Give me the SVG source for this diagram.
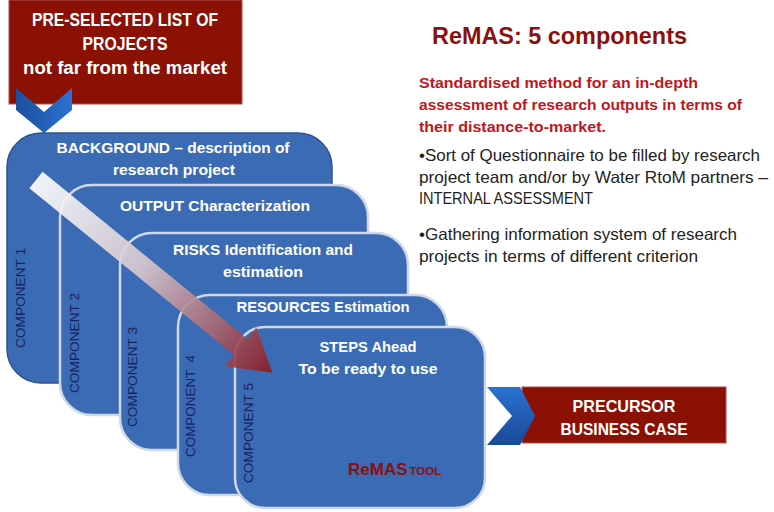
<svg xmlns="http://www.w3.org/2000/svg" width="774" height="512" viewBox="0 0 774 512">
<defs>
<linearGradient id="chevV" x1="0" y1="0" x2="1" y2="0">
<stop offset="0" stop-color="#1d4f9c"/><stop offset="0.5" stop-color="#2360b8"/><stop offset="1" stop-color="#2a72d2"/>
</linearGradient>
<linearGradient id="chevH" x1="0" y1="0" x2="0" y2="1">
<stop offset="0" stop-color="#2a72d2"/><stop offset="1" stop-color="#1a4a98"/>
</linearGradient>
<linearGradient id="arrowGrad" gradientUnits="userSpaceOnUse" x1="0" y1="0" x2="305" y2="0">
<stop offset="0" stop-color="#ffffff"/><stop offset="0.45" stop-color="#d6c8ce"/><stop offset="0.75" stop-color="#a86a76"/><stop offset="1" stop-color="#8a1a22"/>
</linearGradient>
<style>
.redbox{fill:#8b1104;stroke:#b05050;stroke-width:1}
.comp{fill:#3a6bb4;stroke:#cfd8e6;stroke-width:2.5}
.wt{fill:#ffffff;font-family:"Liberation Sans",Arial,sans-serif;font-weight:bold;text-anchor:middle}
.lbl{fill:#17245e;font-family:"Liberation Sans",Arial,sans-serif;font-size:13.5px}
.red{fill:#c0161b;font-family:"Liberation Sans",Arial,sans-serif;font-weight:bold;font-size:15.5px}
.blk{fill:#222222;font-family:"Liberation Sans",Arial,sans-serif;font-size:16.5px}
</style>
</defs>
<rect width="774" height="512" fill="#ffffff"/>

<g id="preselected">
<rect class="redbox" x="9" y="0" width="233" height="104"/>
<text class="wt" x="125" y="26" font-size="18" textLength="186" lengthAdjust="spacingAndGlyphs">PRE-SELECTED LIST OF</text>
<text class="wt" x="125" y="50" font-size="18" textLength="85" lengthAdjust="spacingAndGlyphs">PROJECTS</text>
<text class="wt" x="125" y="74" font-size="18" textLength="204" lengthAdjust="spacingAndGlyphs">not far from the market</text>
</g>

<g id="component1">
<rect x="7" y="133" width="325" height="250" rx="34" fill="#3a6bb4" stroke="#2c5490" stroke-width="1.5"/>
<text class="wt" x="173" y="153" font-size="15" textLength="233" lengthAdjust="spacingAndGlyphs">BACKGROUND – description of</text>
<text class="wt" x="174" y="175" font-size="15" textLength="122" lengthAdjust="spacingAndGlyphs">research project</text>
<text class="lbl" transform="translate(25,348) rotate(-90)" textLength="100" lengthAdjust="spacingAndGlyphs">COMPONENT 1</text>
</g>

<g id="component2">
<rect class="comp" x="60" y="185" width="308" height="230" rx="32"/>
<text class="wt" x="215" y="211" font-size="15" textLength="190" lengthAdjust="spacingAndGlyphs">OUTPUT Characterization</text>
<text class="lbl" transform="translate(79,393) rotate(-90)" textLength="100" lengthAdjust="spacingAndGlyphs">COMPONENT 2</text>
</g>

<g id="component3">
<rect class="comp" x="120" y="233" width="288" height="217" rx="32"/>
<text class="wt" x="263" y="255" font-size="15" textLength="180" lengthAdjust="spacingAndGlyphs">RISKS Identification and</text>
<text class="wt" x="263" y="277" font-size="15" textLength="80" lengthAdjust="spacingAndGlyphs">estimation</text>
<text class="lbl" transform="translate(137,427) rotate(-90)" textLength="100" lengthAdjust="spacingAndGlyphs">COMPONENT 3</text>
</g>

<g id="component4">
<rect class="comp" x="178" y="295" width="269" height="200" rx="32"/>
<text class="wt" x="323" y="312" font-size="15" textLength="173" lengthAdjust="spacingAndGlyphs">RESOURCES Estimation</text>
<text class="lbl" transform="translate(195,457) rotate(-90)" textLength="102" lengthAdjust="spacingAndGlyphs" xml:space="preserve">COMPONENT  4</text>
</g>

<g id="component5">
<rect class="comp" x="235" y="327" width="250" height="181" rx="30"/>
<text class="wt" x="368" y="352" font-size="15" textLength="97" lengthAdjust="spacingAndGlyphs">STEPS Ahead</text>
<text class="wt" x="368" y="374" font-size="15" textLength="139" lengthAdjust="spacingAndGlyphs">To be ready to use</text>
<text class="lbl" transform="translate(253,483) rotate(-90)" textLength="100" lengthAdjust="spacingAndGlyphs">COMPONENT 5</text>
<text x="348" y="475" fill="#8b1010" font-family="'Liberation Sans',Arial,sans-serif" font-weight="bold"><tspan font-size="17">ReMAS</tspan><tspan font-size="11.5" dx="2">TOOL</tspan></text>
</g>

<g id="precursor">
<rect class="redbox" x="522" y="387" width="204" height="56"/>
<text class="wt" x="624" y="412" font-size="16.5" textLength="103" lengthAdjust="spacingAndGlyphs">PRECURSOR</text>
<text class="wt" x="624" y="435" font-size="16.5" textLength="127" lengthAdjust="spacingAndGlyphs">BUSINESS CASE</text>
</g>

<g id="connectors">
<polygon id="chevron-down" points="16,88 44,112 72,88 72,110 44,133 16,110" fill="url(#chevV)"/>
<g id="flow-arrow" transform="translate(36,180) rotate(39.2)" opacity="0.92">
<path d="M0,-10.5 L264,-10.5 L264,-25 L305,0 L264,25 L264,10.5 L0,10.5 Z" fill="url(#arrowGrad)"/>
</g>
<polygon id="chevron-right" points="487,387 520,387 535,416 520,445 487,445 512,416" fill="url(#chevH)"/>
</g>

<g id="description">
<text x="432" y="44" fill="#8b1010" font-family="'Liberation Sans',Arial,sans-serif" font-weight="bold" font-size="23.5" textLength="255" lengthAdjust="spacingAndGlyphs">ReMAS: 5 components</text>
<text class="red" x="419" y="88" textLength="279" lengthAdjust="spacingAndGlyphs">Standardised method for an in-depth</text>
<text class="red" x="419" y="110" textLength="323" lengthAdjust="spacingAndGlyphs">assessment of research outputs in terms of</text>
<text class="red" x="419" y="132" textLength="187" lengthAdjust="spacingAndGlyphs">their distance-to-market.</text>
<text class="blk" x="419" y="161" textLength="341" lengthAdjust="spacingAndGlyphs">•Sort of Questionnaire to be filled by research</text>
<text class="blk" x="419" y="183" textLength="349" lengthAdjust="spacingAndGlyphs">project team and/or by Water RtoM partners –</text>
<text class="blk" x="419" y="204" textLength="174" lengthAdjust="spacingAndGlyphs">INTERNAL ASSESSMENT</text>
<text class="blk" x="419" y="240" textLength="318" lengthAdjust="spacingAndGlyphs">•Gathering information system of research</text>
<text class="blk" x="419" y="262" textLength="279" lengthAdjust="spacingAndGlyphs">projects in terms of different criterion</text>
</g>
</svg>
